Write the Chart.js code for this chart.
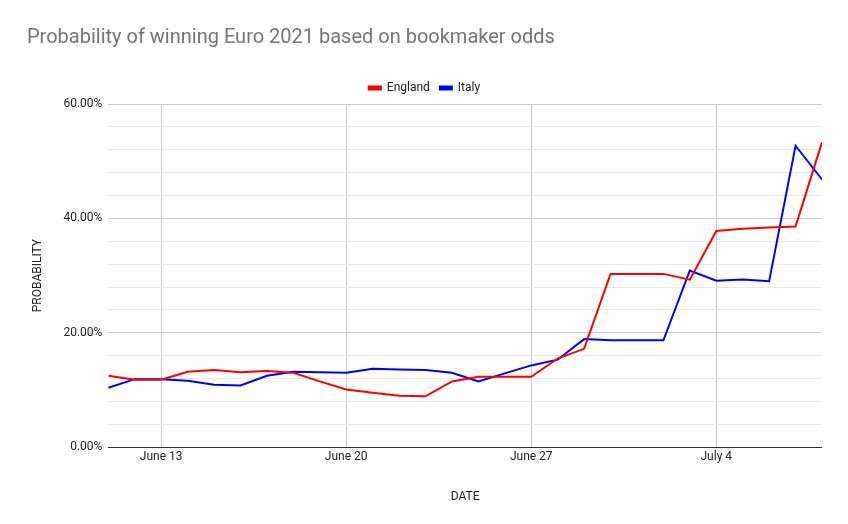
<!DOCTYPE html>
<html><head><meta charset="utf-8">
<script src="https://cdn.jsdelivr.net/npm/chart.js@4"></script>
<style>body{margin:0;background:#fff}#wrap{width:848px;height:524px}</style>
</head><body><div id="wrap"><canvas id="c"></canvas></div>
<script>
const dates = ['June 11','June 12','June 13','June 14','June 15','June 16','June 17','June 18','June 19','June 20','June 21','June 22','June 23','June 24','June 25','June 26','June 27','June 28','June 29','June 30','July 1','July 2','July 3','July 4','July 5','July 6','July 7','July 8'];
const england = [12.5,11.8,11.8,13.2,13.5,13.1,13.3,13.0,11.5,10.1,9.5,9.0,8.9,11.5,12.3,12.3,12.3,15.5,17.2,30.3,30.3,30.3,29.3,37.8,38.2,38.4,38.6,53.3];
const italy = [10.4,11.9,11.9,11.6,10.9,10.8,12.5,13.2,13.1,13.0,13.7,13.6,13.5,13.0,11.5,12.9,14.3,15.3,18.9,18.7,18.7,18.7,30.9,29.1,29.3,29.0,52.7,46.8];
const tickIdx = [2, 9, 16, 23];

new Chart(document.getElementById('c'), {
  type: 'line',
  data: {
    datasets: [
      { label: 'England', data: england.map((v, i) => ({x: i, y: v})), borderColor: '#ff0000', backgroundColor: '#ff0000', borderWidth: 2, pointRadius: 0, tension: 0 },
      { label: 'Italy', data: italy.map((v, i) => ({x: i, y: v})), borderColor: '#0000ff', backgroundColor: '#0000ff', borderWidth: 2, pointRadius: 0, tension: 0 }
    ]
  },
  options: {
    responsive: true, maintainAspectRatio: false, animation: false,
    layout: { padding: { left: 27, right: 26, top: 10, bottom: 16 } },
    plugins: {
      title: { display: true, text: 'Probability of winning Euro 2021 based on bookmaker odds', align: 'start', color: '#757575', font: { family: 'Roboto', size: 20, weight: 'normal' }, padding: { top: 16, bottom: 22 } },
      legend: { labels: { boxWidth: 12, boxHeight: 3, color: '#222', font: { family: 'Roboto', size: 12 } } },
      tooltip: { enabled: false }
    },
    scales: {
      x: {
        type: 'linear', min: 0, max: dates.length - 1,
        afterBuildTicks: a => { a.ticks = tickIdx.map(v => ({ value: v })); },
        ticks: { callback: v => dates[v], color: '#222', font: { family: 'Roboto', size: 12 }, maxRotation: 0 },
        grid: { color: '#cccccc', drawTicks: false },
        border: { display: false },
        title: { display: true, text: 'DATE', color: '#222', font: { family: 'Roboto', size: 12 }, padding: { top: 22 } }
      },
      y: {
        min: 0, max: 60,
        ticks: { stepSize: 4, callback: v => (v % 20 === 0 ? v.toFixed(2) + '%' : ''), color: '#222', font: { family: 'Roboto', size: 12 }, padding: 6 },
        grid: { color: c => (c.tick && c.tick.value === 0 ? '#333' : c.tick && c.tick.value % 20 === 0 ? '#cccccc' : '#ebebeb'), drawTicks: false },
        border: { display: false },
        title: { display: true, text: 'PROBABILITY', color: '#222', font: { family: 'Roboto', size: 12 }, padding: { bottom: 12 } }
      }
    }
  }
});
</script></body></html>
